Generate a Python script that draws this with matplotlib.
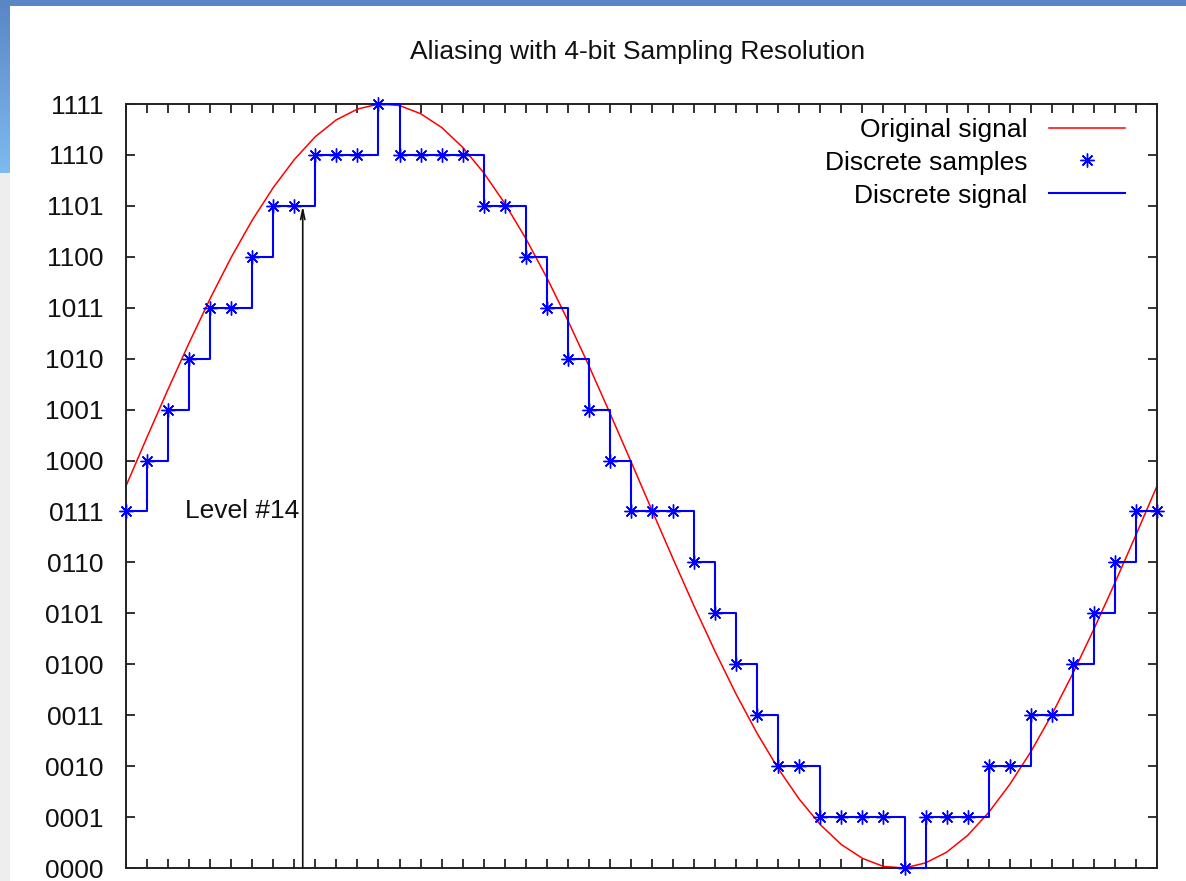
#!/usr/bin/env python3
"""plot.py - aliasing with 4-bit sampling resolution (step plot of a quantised sine)."""
import matplotlib
matplotlib.use("Agg")
import matplotlib.pyplot as plt
import numpy as np
from matplotlib.patches import Rectangle

# ---- data ---------------------------------------------------------------
sample_index = list(range(50))

# continuous signal, read at every sample position (level units)
original_signal = [
    7.50, 8.46, 9.40, 10.31, 11.18, 11.99, 12.72, 13.36, 13.91, 14.36,
    14.69, 14.90, 15.00, 14.97, 14.81, 14.54, 14.15, 13.65, 13.05, 12.36,
    11.59, 10.75, 9.86, 8.93, 7.98, 7.02, 6.07, 5.14, 4.25, 3.41,
    2.64, 1.95, 1.35, 0.85, 0.46, 0.19, 0.03, 0.00, 0.10, 0.31,
    0.64, 1.09, 1.64, 2.28, 3.01, 3.82, 4.69, 5.60, 6.54, 7.50,
]

# quantised samples (4-bit levels 0..15)
discrete_samples = [
    7, 8, 9, 10, 11, 11, 12, 13, 13, 14,
    14, 14, 15, 14, 14, 14, 14, 13, 13, 12,
    11, 10, 9, 8, 7, 7, 7, 6, 5, 4,
    3, 2, 2, 1, 1, 1, 1, 0, 1, 1,
    1, 2, 2, 3, 3, 4, 5, 6, 7, 7,
]

level_labels = [format(v, "04b") for v in range(16)]

arrow_x = 8.4
arrow_level = 13
label_pos = (8.25, 7)

TITLE = "Aliasing with 4-bit Sampling Resolution"
RED = "#ff0000"
BLUE = "#0000ff"
INK = "#111111"
FS = 19

W, H = 1186, 881

plt.rcParams["font.family"] = ["Liberation Sans", "DejaVu Sans"]

fig = plt.figure(figsize=(W / 100, H / 100), dpi=100)
fig.patch.set_facecolor("white")

# screenshot frame: blue band on top, blue/grey strip on the left
bg = fig.add_axes([0, 1 - 173 / H, 10 / W, 173 / H])
grad = np.linspace(0, 1, 64).reshape(-1, 1)
bg.imshow(grad, aspect="auto", cmap=matplotlib.colors.LinearSegmentedColormap.from_list(
    "strip", ["#5a86c6", "#7dbaf0"]), extent=[0, 1, 0, 1])
bg.set_axis_off()
fig.patches.append(Rectangle((0, 0), 10 / W, 1 - 173 / H, transform=fig.transFigure,
                             facecolor="#eeeeee", edgecolor="none", zorder=0))
fig.patches.append(Rectangle((0, 1 - 6 / H), 1, 6 / H, transform=fig.transFigure,
                             facecolor="#5a86c6", edgecolor="none", zorder=0))

ax = fig.add_axes([126 / W, 1 - 868 / H, (1157 - 126) / W, (868 - 104) / H])

ax.plot(sample_index, original_signal, color=RED, lw=1.1, label="Original signal",
        zorder=2, clip_on=False)
ax.plot(sample_index, discrete_samples, linestyle="none", marker=(8, 2, 0),
        markersize=10, markeredgewidth=1.0, color=BLUE, label="Discrete samples",
        zorder=4, clip_on=False)
ax.plot(sample_index, discrete_samples, color=BLUE, lw=1.5, drawstyle="steps-post",
        label="Discrete signal", zorder=3, clip_on=False)

ax.annotate("", xy=(arrow_x, arrow_level), xytext=(arrow_x, 0),
            arrowprops=dict(arrowstyle="->,head_length=0.7,head_width=0.15",
                            color=INK, lw=1.2, shrinkA=0, shrinkB=0))
ax.text(*label_pos, "Level #14", ha="right", va="center", fontsize=FS, color=INK)

ax.set_xlim(0, 49)
ax.set_ylim(0, 15)
ax.set_xticks(sample_index)
ax.set_yticks(range(16))
ax.set_yticklabels(level_labels)
ax.tick_params(direction="in", length=6.5, width=1.2, colors=INK, top=True, right=True,
               labelbottom=False, labelsize=FS, pad=16)
for s in ax.spines.values():
    s.set_linewidth(1.4)
    s.set_color("#222222")

fig.text(638 / W, 1 - 52 / H, TITLE, ha="center", va="center", fontsize=FS, color=INK)

ax.legend(loc="upper right", bbox_to_anchor=(0.969, 0.982), frameon=False,
          markerfirst=False, fontsize=FS, handlelength=2.9, handletextpad=0.8,
          borderaxespad=0, borderpad=0, labelspacing=0.34)

fig.savefig("out.png", dpi=100, facecolor=fig.get_facecolor())
